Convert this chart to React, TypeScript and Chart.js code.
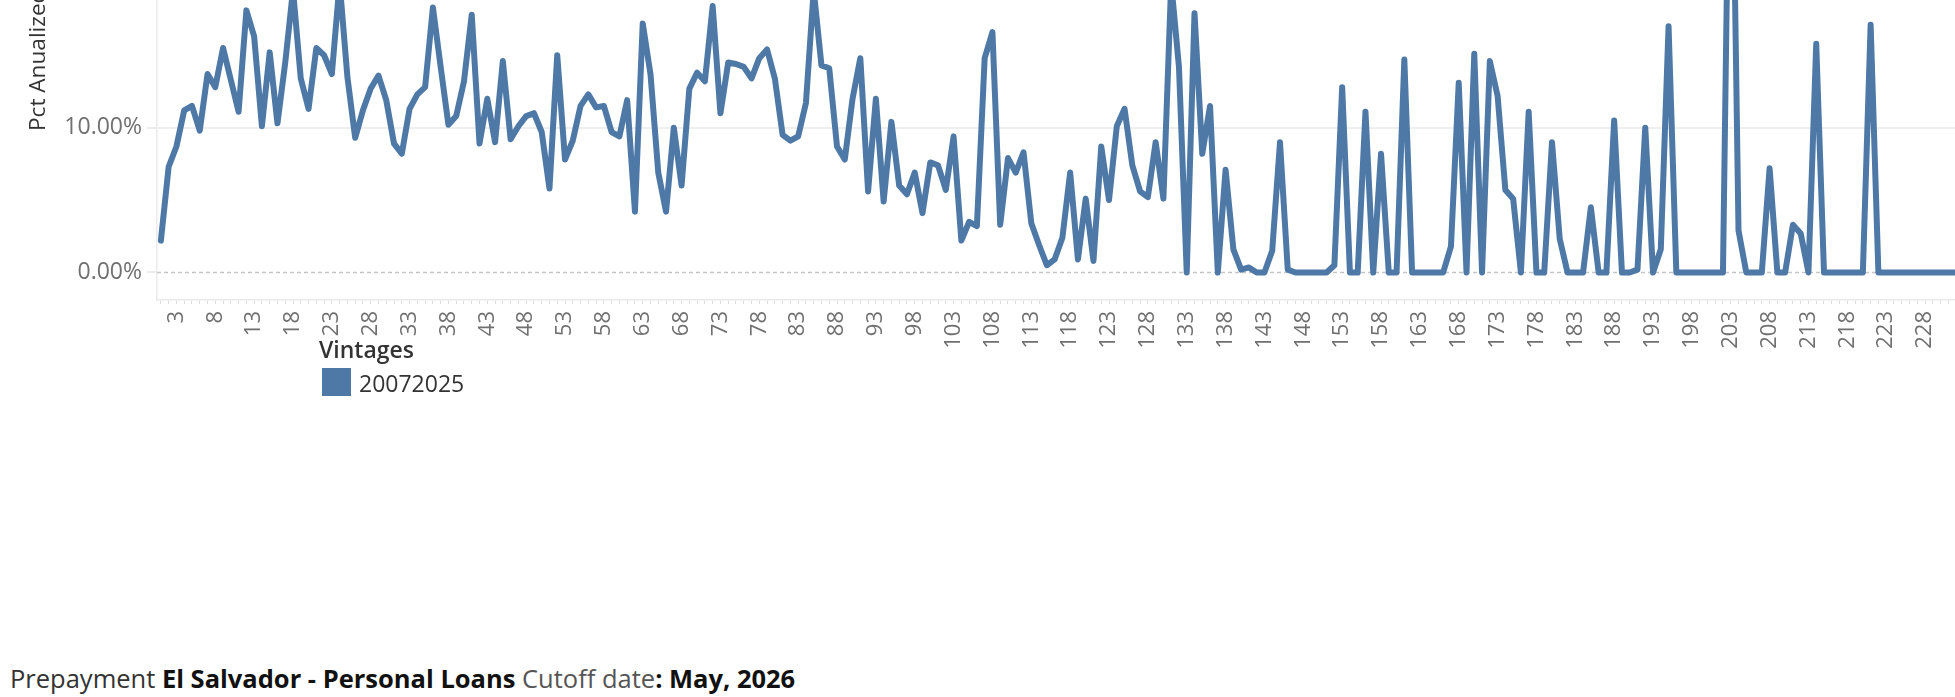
import React, { useEffect, useRef } from 'react';
import { Chart, registerables } from 'chart.js';

Chart.register(...registerables);

const vintageLabel = '20072025';

const categories: string[] = Array.from({ length: 232 }, (_, i) => String(i + 1));

const tickLabels: string[] = [
  '3', '8', '13', '18', '23', '28', '33', '38', '43', '48', '53', '58', '63', '68', '73', '78',
  '83', '88', '93', '98', '103', '108', '113', '118', '123', '128', '133', '138', '143', '148',
  '153', '158', '163', '168', '173', '178', '183', '188', '193', '198', '203', '208', '213',
  '218', '223', '228',
];

const prepayPct: number[] = [
  2.2, 7.3, 8.7, 11.2, 11.5, 9.8, 13.7, 12.8, 15.5, 13.3,
  11.1, 18.1, 16.3, 10.1, 15.2, 10.3, 14.5, 19.5, 13.4, 11.3,
  15.5, 15.0, 13.7, 20.0, 13.5, 9.3, 11.2, 12.7, 13.6, 11.9,
  8.9, 8.2, 11.3, 12.3, 12.8, 18.3, 14.2, 10.2, 10.8, 13.2,
  17.8, 8.9, 12.0, 9.0, 14.6, 9.2, 10.1, 10.8, 11.0, 9.7,
  5.8, 15.0, 7.8, 9.1, 11.5, 12.3, 11.4, 11.5, 9.7, 9.4,
  11.9, 4.2, 17.2, 13.7, 6.9, 4.2, 10.0, 6.0, 12.7, 13.8,
  13.2, 18.4, 11.0, 14.5, 14.4, 14.2, 13.4, 14.8, 15.4, 13.4,
  9.5, 9.1, 9.4, 11.7, 19.5, 14.3, 14.1, 8.7, 7.8, 12.0,
  14.8, 5.6, 12.0, 4.9, 10.4, 6.0, 5.4, 6.9, 4.1, 7.6,
  7.4, 5.7, 9.4, 2.2, 3.5, 3.2, 14.8, 16.6, 3.3, 7.9,
  6.9, 8.3, 3.4, 1.9, 0.5, 0.9, 2.4, 6.9, 0.9, 5.1,
  0.8, 8.7, 5.0, 10.1, 11.3, 7.4, 5.6, 5.2, 9.0, 5.1,
  20.0, 14.2, 0, 17.9, 8.2, 11.5, 0, 7.1, 1.6, 0.2,
  0.35, 0, 0, 1.5, 9.0, 0.2, 0, 0, 0, 0,
  0, 0.5, 12.8, 0, 0, 11.1, 0, 8.2, 0, 0,
  14.7, 0, 0, 0, 0, 0, 1.8, 13.1, 0, 15.1,
  0, 14.6, 12.2, 5.7, 5.1, 0, 11.1, 0, 0, 9.0,
  2.3, 0, 0, 0, 4.5, 0, 0, 10.5, 0, 0,
  0.2, 10.0, 0, 1.6, 17.0, 0, 0, 0, 0, 0,
  0, 0, 39.0, 2.9, 0, 0, 0, 7.2, 0, 0,
  3.3, 2.7, 0, 15.8, 0, 0, 0, 0, 0, 0,
  17.1, 0, 0, 0, 0, 0, 0, 0, 0, 0,
  0, 0,
];

const yTickValues: number[] = [0, 10, 20];

const LINE_COLOR = '#4e79a7';
const FONT = '"Open Sans", "Noto Sans", sans-serif';

const zeroLinePlugin = {
  id: 'zeroLine',
  beforeDatasetsDraw(chart: any) {
    const { ctx, chartArea, scales } = chart;
    const y = scales.y.getPixelForValue(0);
    ctx.save();
    ctx.strokeStyle = '#c6c6c6';
    ctx.lineWidth = 1.5;
    ctx.setLineDash([4, 3]);
    ctx.beginPath();
    ctx.moveTo(chartArea.left, y);
    ctx.lineTo(chartArea.right, y);
    ctx.stroke();
    ctx.restore();
  },
};

function PrepaymentChart() {
  const canvasRef = useRef<HTMLCanvasElement | null>(null);

  useEffect(() => {
    const canvas = canvasRef.current;
    if (!canvas) return;
    const chart = new Chart(canvas, {
      type: 'line',
      data: {
        labels: categories,
        datasets: [
          {
            label: vintageLabel,
            data: prepayPct,
            borderColor: LINE_COLOR,
            backgroundColor: LINE_COLOR,
            borderWidth: 6,
            pointRadius: 0,
            pointHoverRadius: 0,
            tension: 0,
            fill: false,
            borderJoinStyle: 'round',
            borderCapStyle: 'round',
          } as any,
        ],
      },
      options: {
        animation: false,
        responsive: false,
        devicePixelRatio: 1,
        layout: { padding: { top: 30, right: 40, bottom: 0, left: 0 } },
        plugins: {
          legend: { display: false },
          tooltip: { enabled: false },
        },
        scales: {
          x: {
            type: 'category',
            offset: true,
            grid: {
              drawOnChartArea: false,
              drawTicks: true,
              tickLength: 4,
              tickColor: '#dddddd',
              tickWidth: 1,
              offset: false,
            },
            border: { display: true, color: '#ebebeb', width: 1.5 },
            ticks: {
              autoSkip: false,
              maxRotation: 90,
              minRotation: 90,
              padding: 7,
              color: '#707070',
              font: { family: FONT, size: 22 },
              callback: (_v: any, i: number) =>
                tickLabels.includes(categories[i]) ? categories[i] : '',
            },
            afterFit: (s: any) => {
              s.height = 60;
            },
          },
          y: {
            type: 'linear',
            min: -1.9,
            max: 22.96,
            afterBuildTicks: (s: any) => {
              s.ticks = yTickValues.map((v) => ({ value: v }));
            },
            grid: {
              color: (ctx: any) =>
                ctx.tick && ctx.tick.value === 0 ? 'rgba(0,0,0,0)' : '#efefef',
              lineWidth: 2,
              tickLength: 10,
              tickColor: '#ececec',
              tickWidth: 2,
            },
            border: { display: true, color: '#ebebeb', width: 1.5 },
            ticks: {
              padding: 5,
              color: '#707070',
              font: { family: FONT, size: 23 },
              callback: (v: any) => Number(v).toFixed(2) + '%',
            },
            afterFit: (s: any) => {
              s.width = 157;
            },
          },
        },
      },
      plugins: [zeroLinePlugin],
    });
    return () => chart.destroy();
  }, []);

  return (
    <canvas
      ref={canvasRef}
      width={2000}
      height={450}
      style={{ position: 'absolute', left: 0, top: -90, width: 2000, height: 450 }}
    />
  );
}

export default function App() {
  return (
    <div
      style={{
        position: 'absolute',
        left: 0,
        top: 0,
        width: 1955,
        height: 697,
        overflow: 'hidden',
        background: '#ffffff',
        fontFamily: FONT,
      }}
    >
      <PrepaymentChart />
      <div
        style={{
          position: 'absolute',
          left: 22,
          top: 131,
          transform: 'rotate(-90deg)',
          transformOrigin: '0 0',
          whiteSpace: 'nowrap',
          fontSize: 22.6,
          lineHeight: '30px',
          color: '#333333',
        }}
      >
        Pct Anualized
      </div>
      <div
        style={{
          position: 'absolute',
          left: 319,
          top: 334,
          fontSize: 23,
          lineHeight: '30px',
          fontWeight: 600,
          color: '#333333',
          whiteSpace: 'nowrap',
        }}
      >
        Vintages
      </div>
      <div
        style={{
          position: 'absolute',
          left: 322,
          top: 368,
          width: 29,
          height: 28,
          background: LINE_COLOR,
        }}
      />
      <div
        style={{
          position: 'absolute',
          left: 359,
          top: 368,
          fontSize: 23,
          lineHeight: '30px',
          color: '#333333',
          whiteSpace: 'nowrap',
        }}
      >
        {vintageLabel}
      </div>
      <div
        style={{
          position: 'absolute',
          left: 10,
          top: 663,
          fontSize: 25.5,
          lineHeight: '30px',
          color: '#333333',
          whiteSpace: 'nowrap',
        }}
      >
        <span>Prepayment </span>
        <span style={{ fontWeight: 700, color: '#111111' }}>El Salvador - Personal Loans</span>
        <span style={{ color: '#555555' }}> Cutoff date</span>
        <span style={{ fontWeight: 700, color: '#111111' }}>: May, 2026</span>
      </div>
    </div>
  );
}
